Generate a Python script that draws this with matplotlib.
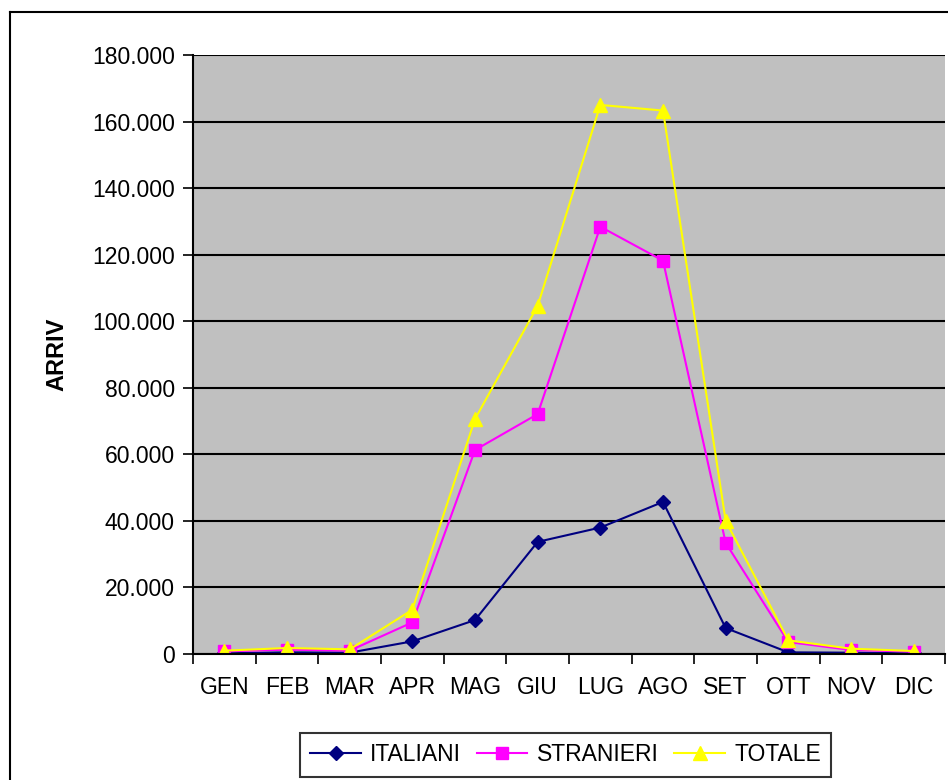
import matplotlib
matplotlib.use("Agg")
import matplotlib.pyplot as plt
from matplotlib.ticker import FuncFormatter, FixedLocator
from matplotlib.lines import Line2D

plt.rcParams['font.family'] = ['Liberation Sans', 'DejaVu Sans']

months = ["GEN", "FEB", "MAR", "APR", "MAG", "GIU", "LUG", "AGO", "SET", "OTT", "NOV", "DIC"]
italiani = [200, 500, 400, 3800, 10200, 33700, 38000, 45700, 7800, 500, 400, 200]
stranieri = [800, 1300, 1000, 9500, 61300, 72100, 128400, 118200, 33400, 3600, 1200, 700]
totale = [1000, 1800, 1400, 13300, 70600, 104600, 165000, 163300, 40000, 4100, 1600, 900]
y_ticks = [0, 20000, 40000, 60000, 80000, 100000, 120000, 140000, 160000, 180000]

W, H = 948, 780
FS = 16.5
fig = plt.figure(figsize=(W / 100, H / 100), dpi=100)
fig.patch.set_facecolor("white")

# outer chart frame (left and top edges visible)
fig.add_artist(Line2D([10 / W, 10 / W], [0, 1 - 12 / H], color="black", lw=1.5, transform=fig.transFigure))
fig.add_artist(Line2D([10 / W, 1], [1 - 12 / H, 1 - 12 / H], color="black", lw=1.5, transform=fig.transFigure))

left, right, top, bottom = 193, 945, 55, 654
ax = fig.add_axes([left / W, 1 - bottom / H, (right - left) / W, (bottom - top) / H])
ax.set_facecolor("#C0C0C0")

x = list(range(len(months)))
ax.plot(x, italiani, color="#000080", lw=1.5, marker="D", ms=7, mec="#000080", mfc="#000080", label="ITALIANI")
ax.plot(x, stranieri, color="#FF00FF", lw=1.5, marker="s", ms=8, mec="#FF00FF", mfc="#FF00FF", label="STRANIERI")
ax.plot(x, totale, color="#FFFF00", lw=1.5, marker="^", ms=10, mec="#FFFF00", mfc="#FFFF00", label="TOTALE")

ax.set_xlim(-0.5, len(months) - 0.5)
ax.set_ylim(0, 180000)
ax.yaxis.set_major_locator(FixedLocator(y_ticks))
ax.yaxis.set_major_formatter(FuncFormatter(lambda v, p: "0" if v == 0 else f"{v:,.0f}".replace(",", ".")))
ax.grid(axis="y", color="black", lw=1.5)
ax.set_axisbelow(True)

# category boundaries carry the tick marks, centres carry the labels
ax.xaxis.set_major_locator(FixedLocator([i - 0.5 for i in range(len(months) + 1)]))
ax.xaxis.set_major_formatter(FuncFormatter(lambda v, p: ""))
ax.xaxis.set_minor_locator(FixedLocator(x))
ax.set_xticklabels(months, minor=True)
ax.tick_params(axis="x", which="major", direction="out", length=7, width=1.2, color="black")
ax.tick_params(axis="x", which="minor", length=0, pad=16, labelsize=FS)
ax.tick_params(axis="y", direction="out", length=7, width=1.2, pad=6, labelsize=FS)

for s in ["top", "right"]:
    ax.spines[s].set_visible(False)
for s in ["left", "bottom"]:
    ax.spines[s].set_color("black")
    ax.spines[s].set_linewidth(1.5)

ax.set_ylabel("ARRIV", fontsize=17, fontweight="bold", labelpad=17)

leg = fig.legend(loc="upper left", bbox_to_anchor=(300 / W, 1 - 733 / H), ncol=3, fontsize=FS,
                 frameon=True, fancybox=False, edgecolor="black", handlelength=2.2,
                 columnspacing=0.7, handletextpad=0.4, borderpad=0.45, borderaxespad=0)
leg.get_frame().set_linewidth(1.5)

fig.savefig("out.png", dpi=100, facecolor="white")
